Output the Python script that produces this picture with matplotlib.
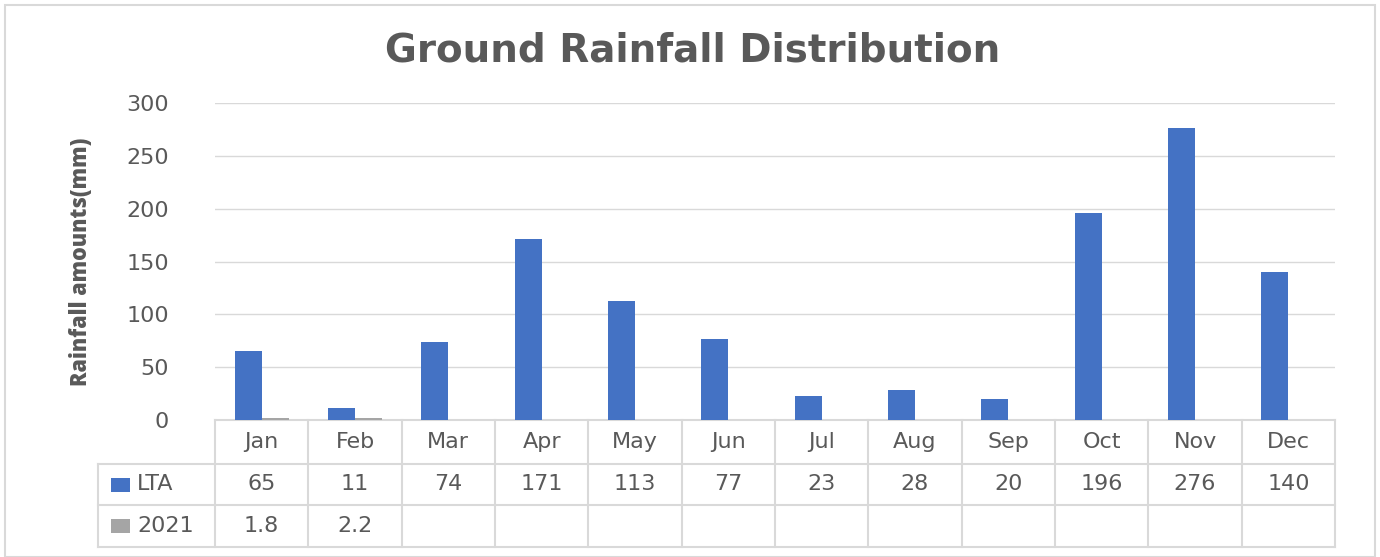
import matplotlib.pyplot as plt
from matplotlib.patches import Rectangle
from matplotlib.transforms import blended_transform_factory
import numpy as np

months = ['Jan', 'Feb', 'Mar', 'Apr', 'May', 'Jun', 'Jul', 'Aug', 'Sep', 'Oct', 'Nov', 'Dec']
lta = [65, 11, 74, 171, 113, 77, 23, 28, 20, 196, 276, 140]
y2021 = [1.8, 2.2, None, None, None, None, None, None, None, None, None, None]
series = ['LTA', '2021']
colors = ['#4472C4', '#A5A5A5']

txt = '#595959'
grid = '#D9D9D9'
plt.rcParams['font.family'] = ['DejaVu Sans']
fs = 16

fig = plt.figure(figsize=(13.8, 5.57), dpi=100)
ax = fig.add_axes([215 / 1380, 1 - 420 / 557, 1120 / 1380, 317 / 557])

x = np.arange(len(months))
w = 0.29
ax.bar(x - w / 2, lta, width=w, color=colors[0], zorder=3)
v21 = [v if v is not None else 0 for v in y2021]
ax.bar(x + w / 2, v21, width=w, color=colors[1], zorder=3)

ax.set_xlim(-0.5, 11.5)
ax.set_ylim(0, 300)
ax.set_yticks(range(0, 301, 50))
ax.yaxis.grid(True, color=grid, linewidth=1)
ax.set_axisbelow(True)
ax.tick_params(axis='y', length=0, pad=33, labelsize=fs, labelcolor=txt)
ax.set_xticks([])
for s in ax.spines.values():
    s.set_visible(False)

ax.set_ylabel('Rainfall amounts(mm)', family=['Open Sans', 'DejaVu Sans'],
              fontweight='heavy', fontsize=15.5, color=txt, labelpad=24)

fig.suptitle('Ground Rainfall Distribution', x=693 / 1380, y=1 - 50 / 557, va='center',
             fontsize=28, fontweight='bold', color=txt)

# data table under the plot
tr = blended_transform_factory(ax.transData, ax.transAxes)
ph = 317.0
rows = [0, -44 / ph, -85 / ph, -127 / ph]
left = -0.5 - 117 / 93.3
lkw = dict(color=grid, linewidth=1.5, transform=tr, clip_on=False)
ax.plot([-0.5, 11.5], [rows[0], rows[0]], **lkw)
for r in rows[1:]:
    ax.plot([left, 11.5], [r, r], **lkw)
for k in range(13):
    ax.plot([k - 0.5, k - 0.5], [rows[0], rows[3]], **lkw)
ax.plot([left, left], [rows[1], rows[3]], **lkw)

for i, m in enumerate(months):
    ax.text(i, (rows[0] + rows[1]) / 2, m, transform=tr, ha='center', va='center',
            fontsize=fs, color=txt)
    ax.text(i, (rows[1] + rows[2]) / 2, f'{lta[i]:g}', transform=tr, ha='center',
            va='center', fontsize=fs, color=txt)
    if y2021[i] is not None:
        ax.text(i, (rows[2] + rows[3]) / 2, f'{y2021[i]:g}', transform=tr, ha='center',
                va='center', fontsize=fs, color=txt)

for j, name in enumerate(series):
    yc = (rows[1 + j] + rows[2 + j]) / 2
    ax.add_patch(Rectangle((left + 13 / 93.3, yc - 7 / ph), 19 / 93.3, 14 / ph,
                           facecolor=colors[j], transform=tr, clip_on=False))
    ax.text(left + 39 / 93.3, yc, name, transform=tr, ha='left', va='center',
            fontsize=fs, color=txt)

# outer chart frame
fig.patches.append(Rectangle((5 / 1380, 0), 1370 / 1380, 1 - 5 / 557, transform=fig.transFigure,
                             fill=False, edgecolor=grid, linewidth=1.5))

fig.savefig('out.png', dpi=100)
